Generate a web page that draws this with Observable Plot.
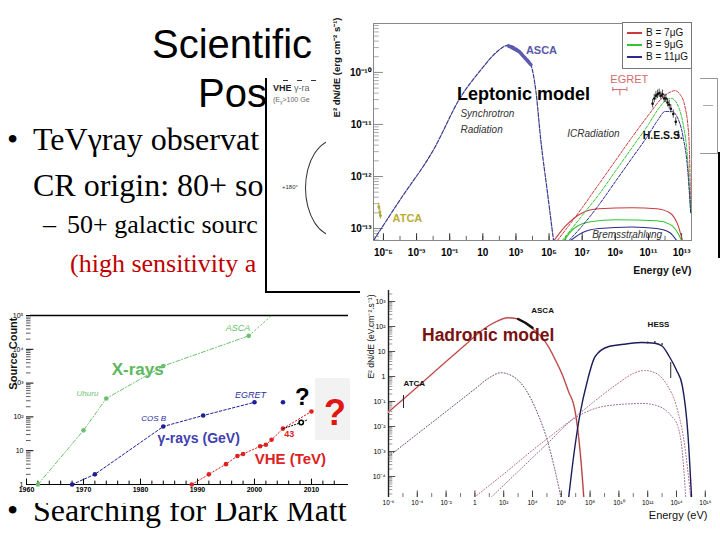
<!DOCTYPE html>
<html><head><meta charset="utf-8">
<script src="https://cdn.jsdelivr.net/npm/d3@7"></script>
<script src="https://cdn.jsdelivr.net/npm/@observablehq/plot@0.6"></script>
<style>
html,body{margin:0;padding:0;background:#fff;}
#slide{position:relative;width:720px;height:540px;overflow:hidden;background:#fff;}
.t{position:absolute;white-space:nowrap;line-height:1;}
.title{font-family:"Liberation Sans",Arial,sans-serif;font-size:40px;color:#000;}
.serif{font-family:"Liberation Serif","Times New Roman",serif;color:#000;}
.panel{position:absolute;background:#fff;}
.panel svg{position:absolute;left:0;top:0;}
.sans{font-family:"Liberation Sans",Arial,sans-serif;}
#body{position:absolute;left:0;top:0;width:265px;height:540px;overflow:hidden;}
.dash{position:absolute;top:2px;width:5px;height:1px;background:#333;}
</style></head>
<body>
<div id="slide">
  <div class="t title" style="left:152px;top:24px">Scientific</div>
  <div class="t title" style="left:198px;top:73px">Pos</div>
  <div id="body">
    <div class="t serif" style="left:7px;top:123px;font-size:32px">•</div>
    <div class="t serif" style="left:33px;top:123px;font-size:32px">TeVγray observat</div>
    <div class="t serif" style="left:33px;top:169px;font-size:32px">CR origin: 80+ so</div>
    <div class="t serif" style="left:43px;top:212px;font-size:26px">–</div>
    <div class="t serif" style="left:67px;top:212px;font-size:26px">50+ galactic sourc</div>
    <div class="t serif" style="left:70px;top:251px;font-size:26px;color:#c00000">(high sensitivity a</div>
  </div>
  <div class="t serif" style="left:7px;top:494px;font-size:32px">•</div>
  <div class="t serif" style="left:33px;top:494px;font-size:32px">Searching for Dark Matt</div>

  <div class="panel" style="left:265px;top:78px;width:460px;height:213px;border-left:2px solid #000;border-bottom:2px solid #000;">
    <div class="dash" style="left:16px"></div>
    <div class="dash" style="left:30px"></div>
    <div class="dash" style="left:44px"></div>
    <div class="t sans" style="left:6px;top:6px;font-size:9px;color:#222"><b>VHE</b> <span style="color:#666">γ-ra</span></div>
    <div class="t sans" style="left:6px;top:18px;font-size:7px;color:#666">(E<sub style="font-size:5px">γ</sub>&gt;100 Ge</div>
    <div class="t sans" style="left:15px;top:106px;font-size:6px;color:#333">+180°</div>
    <div style="position:absolute;left:38px;top:61px;width:60px;height:96px;border:1px solid #333;border-radius:50%;"></div>
  </div>

  <div class="panel" id="lep" style="left:326px;top:0;width:394px;height:288px"></div>
  <div class="t sans" style="left:457px;top:85px;font-size:18px;font-weight:bold;color:#000">Leptonic model</div>
  <div class="panel sans" style="left:622px;top:22px;width:68px;height:45px;border:1px solid #777;font-size:10px;color:#111">
    <div class="t" style="left:4px;top:5px"><span style="display:inline-block;width:15px;height:2px;background:#c83c3c;vertical-align:middle;margin-right:4px"></span>B = 7μG</div>
    <div class="t" style="left:4px;top:17px"><span style="display:inline-block;width:15px;height:2px;background:#33c433;vertical-align:middle;margin-right:4px"></span>B = 9μG</div>
    <div class="t" style="left:4px;top:29px"><span style="display:inline-block;width:15px;height:2px;background:#2b2b8c;vertical-align:middle;margin-right:4px"></span>B = 11μG</div>
  </div>
  <div style="position:absolute;left:700px;top:78px;width:17px;height:74px;border:1px solid #999;border-left:none;"></div>
  <div style="position:absolute;left:703px;top:105px;width:10px;height:1px;background:#aaa;"></div>
  <div style="position:absolute;left:718px;top:152px;width:2px;height:106px;background:#000;"></div>

  <div class="panel" id="count" style="left:0;top:295px;width:350px;height:208px">
    <div style="position:absolute;left:315px;top:83px;width:35px;height:62px;background:#f2f2f2"></div>
    <div class="t sans" style="left:324px;top:100px;font-size:36px;font-weight:bold;color:#e01515">?</div>
  </div>
  <div class="panel" id="had" style="left:360px;top:285px;width:360px;height:255px"></div>
  <div class="t sans" style="left:422px;top:327px;font-size:17.5px;font-weight:bold;color:#7a1212">Hadronic model</div>
</div>
<script>
// ---------- helpers ----------
const sup = {"-":"⁻","0":"⁰","1":"¹","2":"²","3":"³","4":"⁴","5":"⁵","6":"⁶","7":"⁷","8":"⁸","9":"⁹"};
const pow10 = e => e === 0 ? "1" : e === 1 ? "10" : "10" + String(e).split("").map(c => sup[c]).join("");
const P = e => 10 ** e;
const lg = v => Math.round(Math.log10(v));
const xy = {x: d => P(d[0]), y: d => P(d[1])};

// ---------- Leptonic model data: [log10 E (eV), log10 E²dN/dE (erg cm⁻² s⁻¹)] ----------
const lepTicksX = [-5, -3, -1, 1, 3, 5, 7, 9, 11, 13];
const lepTicksY = [-13, -12, -11, -10];
const lepSync = [[-5.6,-13.23],[-4,-12.45],[-2,-11.5],[-0.35,-10.48],[0.86,-9.96],[1.8,-9.62],[2.5,-9.48],[3.0,-9.53],[3.5,-9.68],[3.9,-9.85],[4.2,-10.35],[4.5,-11.3],[4.9,-12.3],[5.27,-13.23]];
const lepAsca = [[2.55,-9.49],[3.2,-9.6],[3.9,-9.85]];
const lepIC7 = [[5.5,-13.23],[7,-12.6],[8,-12.15],[9,-11.7],[10,-11.25],[11,-10.82],[11.8,-10.5],[12.3,-10.38],[12.6,-10.35],[12.9,-10.42],[13.2,-10.65],[13.45,-11.3],[13.55,-12.7]];
const lepIC9 = [[5.8,-13.23],[7,-12.75],[8,-12.35],[9,-11.9],[10,-11.45],[11,-11.0],[11.6,-10.7],[12.0,-10.55],[12.4,-10.5],[12.8,-10.65],[13.1,-11.0],[13.35,-11.6],[13.55,-12.7]];
const lepIC11 = [[6.2,-13.23],[7,-12.95],[8,-12.55],[9,-12.1],[10,-11.65],[11,-11.2],[11.6,-10.9],[12.0,-10.75],[12.4,-10.75],[12.8,-10.9],[13.1,-11.25],[13.35,-11.8],[13.55,-12.7]];
const lepBrem7 = [[5.3,-13.23],[6,-12.95],[7,-12.7],[8,-12.62],[10,-12.6],[11.5,-12.62],[12.3,-12.7],[12.8,-12.95],[13.05,-13.23]];
const lepBrem9 = [[5.9,-13.23],[6.5,-13.0],[7.5,-12.87],[9,-12.83],[11.5,-12.85],[12.3,-12.92],[12.8,-13.1],[13.0,-13.23]];
const lepBrem11 = [[6.3,-13.23],[7,-13.08],[8,-13.0],[10,-12.97],[11.5,-13.0],[12.3,-13.08],[12.7,-13.23]];
const hessE = [11.25,11.35,11.45,11.55,11.65,11.75,11.85,11.95,12.05,12.15,12.25,12.35,12.5,12.65,12.8];
const hessF = [-10.6,-10.5,-10.45,-10.42,-10.4,-10.45,-10.42,-10.5,-10.5,-10.58,-10.62,-10.7,-10.8,-10.95,-11.2];
const egretE = [8.85, 9.7], egretF = -10.33;
const atcaE = [-5.28,-5.22,-5.18], atcaF = [-12.58,-12.68,-12.75];

// ---------- Source count data ----------
const countTicksX = [1960, 1970, 1980, 1990, 2000, 2010];
const countTicksY = [1, 10, 100, 1000, 10000, 100000];
const xrayYear = [1962, 1970, 1974, 1984, 1999], xrayCount = [1, 40, 350, 3200, 25000];
const xrayTrendYear = [1999, 2003], xrayTrendCount = [25000, 100000];
const gevYear = [1968, 1972, 1984, 1991, 2000], gevCount = [1, 2, 52, 110, 270];
const gevLatestYear = [2005], gevLatestCount = [270];
const vheYear = [1989, 1992, 1995, 1997, 1998, 2001, 2002, 2003, 2005, 2010];
const vheCount = [1, 2, 4, 7, 8, 13.5, 15, 21, 45, 145];
const vheTrendYear = [2005, 2008.2, 2009.4], vheTrendCount = [45, 68, 84];

// ---------- Hadronic model data: [log10 E (eV), log10 E²dN/dE (eV cm⁻² s⁻¹)] ----------
const hadTicksX = [-6,-4,-2,0,2,4,6,8,10,12,14,16];
const hadTicksY = [-4,-3,-2,-1,0,1,2,3];
const hadSync = [[-6,-1.42],[-4,-0.42],[-2,0.6],[-0.5,1.35],[0.5,1.85],[1.5,2.2],[2.3,2.35],[3,2.3],[3.8,2.0],[4.6,1.6],[5.1,1.2],[5.6,0.65],[6.05,0.1],[6.5,-0.6],[6.95,-1.36],[7.2,-2.4],[7.4,-3.6],[7.57,-4.9]];
const hadPion = [[6.5,-4.9],[6.9,-3.0],[7.3,-1.5],[7.8,-0.2],[8.35,0.8],[9.3,1.2],[10.5,1.3],[11.6,1.36],[12.5,1.33],[13.0,1.22],[13.5,0.8],[14.0,0.25],[14.4,-0.36],[14.8,-2.36],[15.05,-4.9]];
const hadDot1 = [[-6,-3.2],[-4,-2.3],[-2,-1.4],[0,-0.5],[1,-0.05],[1.8,0.15],[2.5,0.05],[3.5,-0.5],[4.3,-1.4],[5,-2.5],[5.5,-3.6],[6,-4.9]];
const hadDot2 = [[-0.2,-4.9],[2,-3.9],[4,-2.95],[6,-2.05],[7,-1.6],[8.5,-0.9],[10,-0.25],[11,0.12],[11.8,0.24],[12.5,0.15],[13.3,-0.3],[14,-1.2],[14.5,-2.5],[15.0,-4.9]];
const hadDot3 = [[1,-4.9],[3,-3.8],[5,-2.7],[6.85,-1.7],[8,-1.35],[10,-1.12],[11.7,-1.08],[12.8,-1.2],[13.6,-1.55],[14.1,-2.0],[14.4,-3.0],[14.65,-4.9]];
const hadAsca = [[3.0,2.3],[3.5,2.15],[4.0,1.95]];
const hadHess = [[12.0,1.36],[12.5,1.38],[13.0,1.3]];
const hadHessBar = [13.6, 0.56, -0.08];
const hadAtca = [-4.96, -0.76, -1.28];

const RED = "#c83c3c", GREEN = "#33c433", BLUE = "#2b2b8c";

// ---------- Leptonic plot ----------
const lepXD = [P(-5.6), P(13.6)], lepYD = [P(-13.23), P(-9.06)];
const lepMinorY = d3.range(-14, -9).flatMap(k => d3.range(2, 10).map(m => m * P(k))).filter(v => v > lepYD[0] && v < lepYD[1]);
const lepDec = d3.range(-5, 14);
const lep = Plot.plot({
  width: 394, height: 288, marginLeft: 47, marginRight: 29, marginTop: 23, marginBottom: 48,
  x: {type: "log", domain: lepXD}, y: {type: "log", domain: lepYD},
  style: {fontFamily: "Liberation Sans, Arial, sans-serif", fontSize: "10px", fontWeight: "bold", background: "transparent", overflow: "visible"},
  marks: [
    Plot.ruleY(lepMinorY, {x1: lepXD[0], x2: P(-5.6 + 0.35), stroke: "#aaa"}),
    Plot.ruleY(lepTicksY.map(P), {x1: lepXD[0], x2: P(-5.6 + 0.6), stroke: "#888"}),
    Plot.ruleX(lepDec.map(P), {y1: lepYD[0], y2: P(-13.23 + 0.08), stroke: "#666"}),
    Plot.ruleX(lepTicksX.map(P), {y1: lepYD[0], y2: P(-13.23 + 0.13), stroke: "#333"}),
    Plot.frame({stroke: "#888"}),
    Plot.axisX(lepTicksX.map(P), {tickSize: 0, tickPadding: 8, tickFormat: d => pow10(lg(d)), label: null}),
    Plot.axisY(lepTicksY.map(P), {tickSize: 0, tickPadding: 2, tickFormat: d => pow10(lg(d)), label: null}),
    Plot.line(lepBrem7, {...xy, stroke: RED, strokeWidth: 1.1, curve: "monotone-x", clip: true}),
    Plot.line(lepBrem9, {...xy, stroke: GREEN, strokeWidth: 1.1, curve: "monotone-x", clip: true}),
    Plot.line(lepBrem11, {...xy, stroke: BLUE, strokeWidth: 1.1, curve: "monotone-x", clip: true}),
    Plot.line(lepIC7, {...xy, stroke: RED, strokeWidth: 1, strokeDasharray: "3,1.5", curve: "monotone-x", clip: true}),
    Plot.line(lepIC9, {...xy, stroke: GREEN, strokeWidth: 1, strokeDasharray: "3,1.5", curve: "monotone-x", clip: true}),
    Plot.line(lepIC11, {...xy, stroke: BLUE, strokeWidth: 1, strokeDasharray: "3,1.5", curve: "monotone-x", clip: true}),
    Plot.line(lepSync, {...xy, stroke: "#3a3a8c", strokeWidth: 1.2, strokeDasharray: "4,1.5", curve: "monotone-x", clip: true}),
    Plot.line(lepAsca, {...xy, stroke: "#5a5ab0", strokeWidth: 3.5}),
    Plot.ruleX(hessE, {x: e => P(e), y1: (e, i) => P(hessF[i] - 0.08), y2: (e, i) => P(hessF[i] + 0.08), stroke: "#222", strokeWidth: 0.8}),
    Plot.dot(hessE, {x: e => P(e), y: (e, i) => P(hessF[i]), r: 1.3, fill: "#111", stroke: "none"}),
    Plot.ruleY([egretF], {x1: P(egretE[0]), x2: P(egretE[1]), y: P, stroke: "#d06a6a"}),
    Plot.ruleX(egretE, {x: P, y1: P(egretF - 0.04), y2: P(egretF + 0.04), stroke: "#d06a6a"}),
    Plot.ruleX([d3.mean(egretE)], {x: P, y1: P(egretF), y2: P(egretF - 0.12), stroke: "#d06a6a"}),
    Plot.ruleX(atcaE, {x: e => P(e), y1: (e, i) => P(atcaF[i] - 0.07), y2: (e, i) => P(atcaF[i] + 0.07), stroke: "#b0a838"}),
    Plot.dot(atcaE, {x: e => P(e), y: (e, i) => P(atcaF[i]), r: 1.5, fill: "#b0a838", stroke: "none"}),
    Plot.text(["ASCA"], {x: P(3.6), y: P(-9.58), textAnchor: "start", fill: "#5858a8", fontSize: 11}),
    Plot.text(["Synchrotron"], {x: P(-0.35), y: P(-10.79), textAnchor: "start", fill: "#333", fontStyle: "italic", fontWeight: "normal", fontSize: 10}),
    Plot.text(["Radiation"], {x: P(-0.35), y: P(-11.1), textAnchor: "start", fill: "#333", fontStyle: "italic", fontWeight: "normal", fontSize: 10}),
    Plot.text(["ICRadiation"], {x: P(6.1), y: P(-11.17), textAnchor: "start", fill: "#333", fontStyle: "italic", fontWeight: "normal", fontSize: 10}),
    Plot.text(["H.E.S.S."], {x: P(10.65), y: P(-11.21), textAnchor: "start", fill: "#111", fontSize: 10.5}),
    Plot.text(["Bremsstrahlung"], {x: P(7.6), y: P(-13.12), textAnchor: "start", fill: "#333", fontStyle: "italic", fontWeight: "normal", fontSize: 10}),
    Plot.text(["EGRET"], {x: P(8.7), y: P(-10.13), textAnchor: "start", fill: "#d06a6a", fontWeight: "normal", fontSize: 11}),
    Plot.text(["ATCA"], {x: P(-4.45), y: P(-12.8), textAnchor: "start", fill: "#b8ad35", fontSize: 11}),
    Plot.text(["Energy (eV)"], {frameAnchor: "bottom-right", dy: 33, textAnchor: "end", fontSize: 10.5, fill: "#111"}),
    Plot.text(["E² dN/dE (erg cm⁻² s⁻¹)"], {frameAnchor: "top-left", rotate: -90, textAnchor: "end", dx: -40, dy: -6, fontSize: 9.5, fill: "#111"})
  ]
});
document.getElementById("lep").appendChild(lep);

// ---------- Source count plot ----------
const cMinorY = d3.range(0, 5).flatMap(k => d3.range(2, 10).map(m => m * P(k)));
const cMinorX = d3.range(1962, 2016, 2).filter(y => y % 10 !== 0);
const count = Plot.plot({
  width: 350, height: 208, marginLeft: 26, marginRight: 2, marginTop: 20, marginBottom: 19,
  x: {domain: [1960, 2016.5]}, y: {type: "log", domain: [1, 1e5]},
  style: {fontFamily: "Liberation Sans, Arial, sans-serif", background: "transparent", overflow: "visible"},
  marks: [
    Plot.ruleY(cMinorY, {x1: 1960, x2: 1960.8, stroke: "#333", strokeWidth: 0.8}),
    Plot.ruleY(countTicksY, {x1: 1960, x2: 1961.3, stroke: "#000"}),
    Plot.ruleX(cMinorX, {y1: 1, y2: P(0.1), stroke: "#000"}),
    Plot.ruleX(countTicksX, {y1: 1, y2: P(0.16), stroke: "#000"}),
    Plot.ruleY([1e5], {x1: 1960.7, x2: 2016.5, stroke: "#000", strokeWidth: 1.6}),
    Plot.ruleY([1], {x1: 1960, x2: 2016.5, stroke: "#000", strokeWidth: 1.2}),
    Plot.axisX(countTicksX, {tickSize: 0, tickPadding: 3, tickFormat: d => String(d), fontSize: 7, fontWeight: "bold", label: null}),
    Plot.axisY(countTicksY, {tickSize: 0, tickPadding: 3, tickFormat: d => pow10(lg(d)), fontSize: 7, label: null}),
    Plot.line(xrayYear, {x: d => d, y: (d, i) => xrayCount[i], stroke: "#6cc06c", strokeWidth: 1, strokeDasharray: "4,2,1,2"}),
    Plot.line(xrayTrendYear, {x: d => d, y: (d, i) => xrayTrendCount[i], stroke: "#6cc06c", strokeWidth: 1, strokeDasharray: "1.5,2.5"}),
    Plot.dot(xrayYear, {x: d => d, y: (d, i) => xrayCount[i], r: 2.3, fill: "#6cc06c", stroke: "none"}),
    Plot.line(gevYear, {x: d => d, y: (d, i) => gevCount[i], stroke: "#1e1e99", strokeWidth: 1, strokeDasharray: "2.5,2"}),
    Plot.dot(gevYear, {x: d => d, y: (d, i) => gevCount[i], r: 2.3, fill: "#1e1e99", stroke: "none"}),
    Plot.dot(gevLatestYear, {x: d => d, y: (d, i) => gevLatestCount[i], r: 2.3, fill: "#1e1e99", stroke: "none"}),
    Plot.line(vheYear, {x: d => d, y: (d, i) => vheCount[i], stroke: "#dd2222", strokeWidth: 1, strokeDasharray: "1.5,2"}),
    Plot.dot(vheYear, {x: d => d, y: (d, i) => vheCount[i], r: 2.3, fill: "#dd2222", stroke: "none"}),
    Plot.line(vheTrendYear, {x: d => d, y: (d, i) => vheTrendCount[i], stroke: "#000", strokeWidth: 1, strokeDasharray: "1.2,1.8"}),
    Plot.dot(vheTrendYear.slice(1, 2), {x: d => d, y: vheTrendCount[1], r: 2.2, fill: "white", stroke: "#000"}),
    Plot.text(["ASCA"], {x: 1997.1, y: 41700, fill: "#6cc06c", fontStyle: "italic", fontSize: 9}),
    Plot.text(["Uhuru"], {x: 1970.7, y: 490, fill: "#6cc06c", fontStyle: "italic", fontSize: 8}),
    Plot.text(["X-rays"], {x: 1979.5, y: 2500, fill: "#5cb85c", fontWeight: "bold", fontSize: 17}),
    Plot.text(["COS B"], {x: 1982.3, y: 90, fill: "#2a2aa0", fontStyle: "italic", fontSize: 8}),
    Plot.text(["EGRET"], {x: 1999.3, y: 430, fill: "#2a2aa0", fontStyle: "italic", fontSize: 9}),
    Plot.text(["γ-rays (GeV)"], {x: 1990.2, y: 23, fill: "#4040b0", fontWeight: "bold", fontSize: 14}),
    Plot.text(["VHE (TeV)"], {x: 2006.3, y: 5.5, fill: "#dd2222", fontWeight: "bold", fontSize: 15}),
    Plot.text(["43"], {x: 2006.1, y: 32, fill: "#dd2222", fontWeight: "bold", fontSize: 9}),
    Plot.text(["?"], {x: 2008.4, y: 375, fill: "#000", fontWeight: "bold", fontSize: 24}),
    Plot.text(["Source Count"], {frameAnchor: "top-left", rotate: -90, textAnchor: "end", dx: -17, dy: 2, fontWeight: "bold", fontSize: 11, fill: "#111"})
  ]
});
document.getElementById("count").appendChild(count);

// ---------- Hadronic plot ----------
const hadXD = [P(-6), P(16.5)], hadYD = [P(-4.84), P(3.44)];
const hadMinorY = d3.range(-5, 4).flatMap(k => d3.range(2, 10).map(m => m * P(k))).filter(v => v > hadYD[0] && v < hadYD[1]);
const hadDec = d3.range(-6, 17);
const had = Plot.plot({
  width: 360, height: 255, marginLeft: 28, marginRight: 8, marginTop: 5, marginBottom: 43,
  x: {type: "log", domain: hadXD}, y: {type: "log", domain: hadYD},
  style: {fontFamily: "Liberation Sans, Arial, sans-serif", background: "transparent", overflow: "visible"},
  marks: [
    Plot.ruleY(hadMinorY, {x1: hadXD[0], x2: P(-6 + 0.3), stroke: "#999"}),
    Plot.ruleY(hadTicksY.map(P), {x1: hadXD[0], x2: P(-6 + 0.5), stroke: "#555"}),
    Plot.ruleX(hadDec.map(P), {y1: hadYD[0], y2: P(-4.84 + 0.16), stroke: "#777"}),
    Plot.ruleX(hadTicksX.map(P), {y1: hadYD[0], y2: P(-4.84 + 0.26), stroke: "#444"}),
    Plot.ruleX([hadXD[0]], {stroke: "#222", strokeWidth: 1.4}),
    Plot.axisX(hadTicksX.map(P), {tickSize: 0, tickPadding: 3, tickFormat: d => pow10(lg(d)), fontSize: 6.5, label: null}),
    Plot.axisY(hadTicksY.map(P), {tickSize: 0, tickPadding: 3, tickFormat: d => pow10(lg(d)), fontSize: 7, label: null}),
    Plot.line(hadDot1, {...xy, stroke: "#6a4a6a", strokeWidth: 1, strokeDasharray: "1,2", curve: "monotone-x", clip: true}),
    Plot.line(hadDot2, {...xy, stroke: "#b06a80", strokeWidth: 1, strokeDasharray: "1,2", curve: "monotone-x", clip: true}),
    Plot.line(hadDot3, {...xy, stroke: "#9a6a8a", strokeWidth: 1, strokeDasharray: "1,2", curve: "monotone-x", clip: true}),
    Plot.line(hadSync, {...xy, stroke: "#f0b0b0", strokeWidth: 1.8, curve: "monotone-x", clip: true}),
    Plot.line(hadSync, {...xy, stroke: "#a02a2a", strokeWidth: 0.9, curve: "monotone-x", clip: true}),
    Plot.line(hadPion, {...xy, stroke: "#1c1c5a", strokeWidth: 1.4, curve: "monotone-x", clip: true}),
    Plot.line(hadAsca, {...xy, stroke: "#111", strokeWidth: 2.5}),
    Plot.dot(hadHess, {...xy, r: 0.9, fill: "#333", stroke: "none"}),
    Plot.ruleX([hadHessBar[0]], {x: P, y1: P(hadHessBar[1]), y2: P(hadHessBar[2]), stroke: "#222"}),
    Plot.ruleX([hadAtca[0]], {x: P, y1: P(hadAtca[1]), y2: P(hadAtca[2]), stroke: "#222"}),
    Plot.text(["ASCA"], {x: P(4.7), y: P(2.64), fill: "#111", fontWeight: "bold", fontSize: 8}),
    Plot.text(["HESS"], {x: P(12.75), y: P(2.08), fill: "#111", fontWeight: "bold", fontSize: 8}),
    Plot.text(["ATCA"], {x: P(-4.96), y: P(-0.28), textAnchor: "start", fill: "#111", fontWeight: "bold", fontSize: 8}),
    Plot.text(["Energy (eV)"], {frameAnchor: "bottom-right", dx: -5, dy: 21, textAnchor: "end", fontSize: 11, fill: "#111"}),
    Plot.text(["E² dN/dE (eV.cm⁻².s⁻¹)"], {frameAnchor: "top-left", rotate: -90, textAnchor: "end", dx: -21, dy: 4, fontSize: 8.5, fill: "#111"})
  ]
});
document.getElementById("had").appendChild(had);
</script>
</body></html>
